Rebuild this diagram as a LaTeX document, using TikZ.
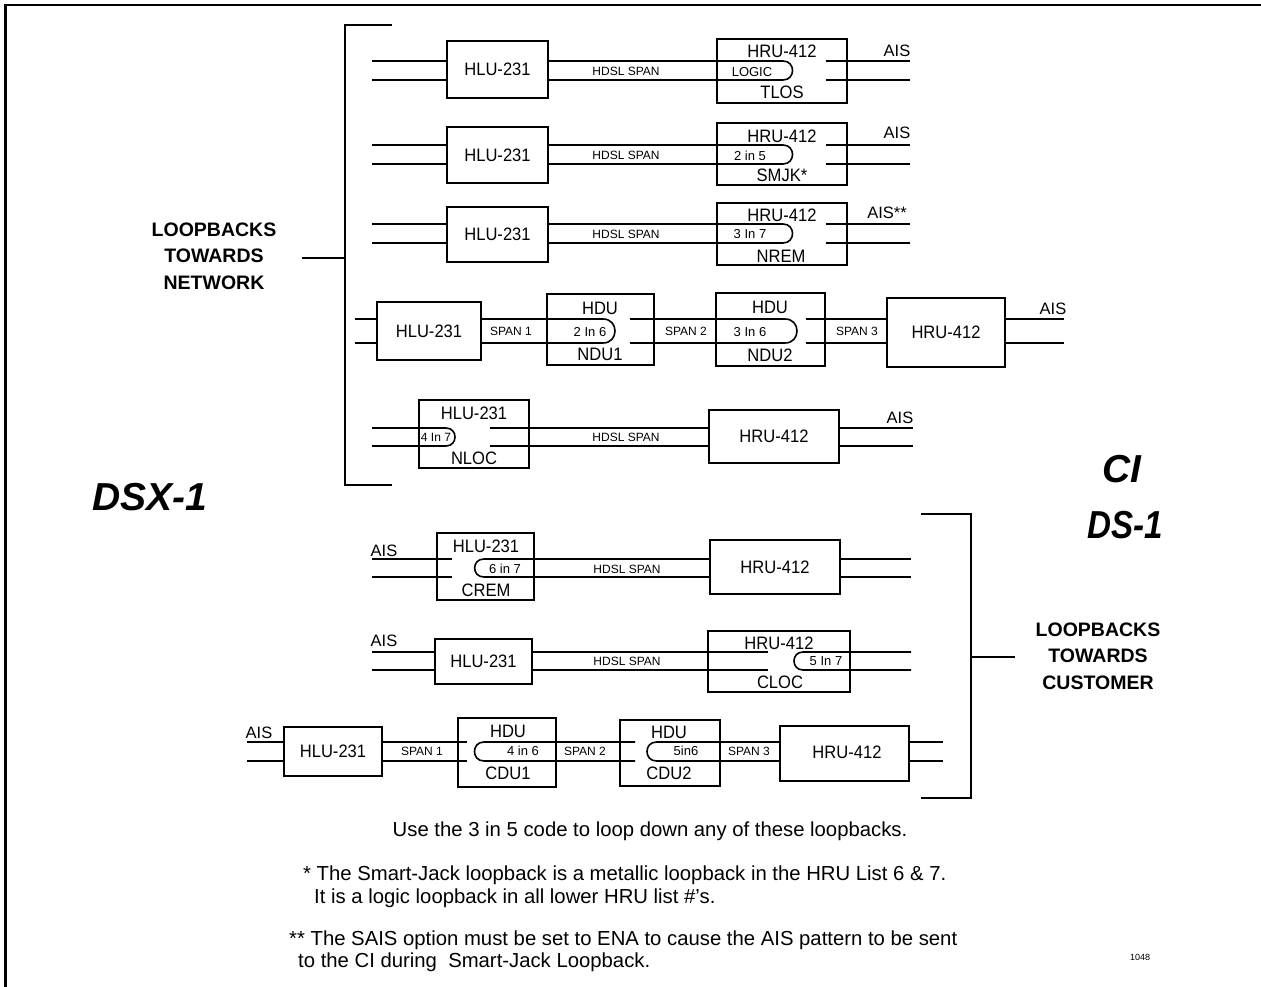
\documentclass[tikz,border=0pt]{standalone}
\usepackage{fontspec}
\setmainfont{Liberation Sans}
\usetikzlibrary{fit}
\newcommand{\myfs}[1]{\fontsize{#1}{#1}\selectfont}
\newcommand{\cz}[1]{\scalebox{0.92}[1]{#1}}
\begin{document}
\begin{tikzpicture}[x=1pt,y=-1pt,
  box/.style={draw, line width=2.6pt, inner sep=0pt, fit={#1}},
  wire/.style={line width=1.6pt},
  lab/.style={font=\myfs{18}, inner sep=0pt},
  sm/.style={font=\myfs{12}, inner sep=0pt},
  lp/.style={font=\myfs{13}, inner sep=0pt},
  ais/.style={font=\myfs{16.5}, inner sep=0pt, anchor=base},
  note/.style={font=\myfs{20.3}, inner sep=0pt, anchor=base west},
  brk/.style={line width=1.6pt},
  big/.style={font=\bfseries\itshape\myfs{39}, inner sep=0pt},
  grp/.style={font={\fontsize{19.5}{26.5}\selectfont\bfseries}, align=center, inner sep=0pt}]
\useasboundingbox (0,0) rectangle (1261,987);
% frame
\draw[line width=2.5pt] (1261,5) -- (5.5,5) -- (5.5,987);

% ---------- network bracket
\coordinate (nbt) at (392,25);
\coordinate (nbb) at (392,485);
\draw[brk] (nbt) -- (345,25) -- (345,485) -- (nbb);
\node[grp] (netlbl) at (214,256) {LOOPBACKS\\TOWARDS\\NETWORK};
\draw[brk] (302,258) -- (345,258);

% ---------- row 1
\node[box={(447,41) (548,98)}] (h1) {};
\node[lab] at (h1) {\cz{HLU-231}};
\draw[wire] (372,61) -- (447,61);
\draw[wire] (372,80) -- (447,80);
\draw[wire] (548,61) -- (783,61) .. controls (795.7,61) and (795.7,80) .. (783,80) -- (548,80);
\node[sm] (s1) at (626,71) {HDSL SPAN};
\node[box={(717,39) (847,103)}] (r1) {};
\node[lab] at (782,51) {\cz{HRU-412}};
\node[lp] at (752,72) {LOGIC};
\node[lab] at (782,92) {\cz{TLOS}};
\draw[wire] (826,61) -- (910,61);
\draw[wire] (826,80) -- (910,80);
\node[ais] at (897,57) {AIS};

% ---------- row 2
\node[box={(447,127) (548,183)}] (h2) {};
\node[lab] at (h2) {\cz{HLU-231}};
\draw[wire] (372,145) -- (447,145);
\draw[wire] (372,164) -- (447,164);
\draw[wire] (548,145) -- (783,145) .. controls (795.7,145) and (795.7,164) .. (783,164) -- (548,164);
\node[sm] (s2) at (626,155) {HDSL SPAN};
\node[box={(717,123) (847,185)}] (r2) {};
\node[lab] at (782,136) {\cz{HRU-412}};
\node[lp] at (750,156) {2 in 5};
\node[lab] at (782,175) {\cz{SMJK*}};
\draw[wire] (826,145) -- (910,145);
\draw[wire] (826,164) -- (910,164);
\node[ais] at (897,139) {AIS};

% ---------- row 3
\node[box={(447,207) (548,262)}] (h3) {};
\node[lab] at (h3) {\cz{HLU-231}};
\draw[wire] (372,224) -- (447,224);
\draw[wire] (372,243) -- (447,243);
\draw[wire] (548,224) -- (783,224) .. controls (795.7,224) and (795.7,243) .. (783,243) -- (548,243);
\node[sm] (s3) at (626,234) {HDSL SPAN};
\node[box={(717,203) (847,265)}] (r3) {};
\node[lab] at (782,215) {\cz{HRU-412}};
\node[lp] at (750,234) {3 In 7};
\node[lab] at (781,256) {\cz{NREM}};
\draw[wire] (826,224) -- (910,224);
\draw[wire] (826,243) -- (910,243);
\node[ais] at (887,219) {AIS**};

% ---------- row 4
\node[box={(377,302) (481,360)}] (h4) {};
\node[lab] at (h4) {\cz{HLU-231}};
\draw[wire] (355,319) -- (377,319);
\draw[wire] (355,343) -- (377,343);
\draw[wire] (481,319) -- (603,319) .. controls (619,319) and (619,343) .. (603,343) -- (481,343);
\node[sm] at (511,331) {SPAN 1};
\node[box={(547,294) (654,365)}] (d1) {};
\node[lab] at (600,308) {\cz{HDU}};
\node[lp] at (590,332) {2 In 6};
\node[lab] at (600,354) {\cz{NDU1}};
\draw[wire] (630,319) -- (785,319) .. controls (801,319) and (801,343) .. (785,343) -- (630,343);
\node[sm] at (686,331) {SPAN 2};
\node[box={(716,293) (825,366)}] (d2) {};
\node[lab] at (770,307) {\cz{HDU}};
\node[lp] at (750,332) {3 In 6};
\node[lab] at (770,355) {\cz{NDU2}};
\node[box={(887,298) (1005,367)}] (r4) {};
\node[lab] at (r4) {\cz{HRU-412}};
\draw[wire] (806,319) -- (887,319);
\draw[wire] (806,343) -- (887,343);
\node[sm] at (857,331) {SPAN 3};
\draw[wire] (1005,319) -- (1064,319);
\draw[wire] (1005,343) -- (1064,343);
\node[ais] at (1053,314) {AIS};

% ---------- row 5
\node[box={(419,400) (529,468)}] (h5) {};
\node[lab] at (474,413) {\cz{HLU-231}};
\node[lp, font=\myfs{12}] at (436,437) {4 In 7};
\node[lab] at (474,458) {\cz{NLOC}};
\draw[wire] (372,428) -- (446,428) .. controls (458,428) and (458,446) .. (446,446) -- (372,446);
\draw[wire] (490,428) -- (709,428);
\draw[wire] (490,446) -- (709,446);
\node[sm] at (626,437) {HDSL SPAN};
\node[box={(709,410) (839,463)}] (r5) {};
\node[lab] at (r5) {\cz{HRU-412}};
\draw[wire] (839,428) -- (913,428);
\draw[wire] (839,446) -- (913,446);
\node[ais] at (900,423) {AIS};

% ---------- labels DSX-1 / CI DS-1
\node[big] (dsx) at (150,497) {DSX-1};
\node[big] (ci) at (1122,469) {CI};
\node[big] (ds1) at (1125,525) {\scalebox{0.85}[1]{DS-1}};

% ---------- customer bracket
\coordinate (cbt) at (921,514);
\coordinate (cbb) at (921,798);
\draw[brk] (cbt) -- (971,514) -- (971,798) -- (cbb);
\draw[brk] (971,657) -- (1015,657);
\node[grp] (cuslbl) at (1098,656) {LOOPBACKS\\TOWARDS\\CUSTOMER};

% ---------- row 6
\node[ais] at (384,556) {AIS};
\node[box={(437,533) (534,600)}] (h6) {};
\node[lab] at (486,546) {\cz{HLU-231}};
\node[lp] at (505,569) {6 in 7};
\node[lab] at (486,590) {\cz{CREM}};
\draw[wire] (372,559) -- (452,559);
\draw[wire] (372,577) -- (452,577);
\draw[wire] (710,559) -- (484,559) .. controls (471.5,559) and (471.5,577) .. (484,577) -- (710,577);
\node[sm] at (627,569) {HDSL SPAN};
\node[box={(710,540) (840,594)}] (r6) {};
\node[lab] at (r6) {\cz{HRU-412}};
\draw[wire] (840,559) -- (911,559);
\draw[wire] (840,577) -- (911,577);

% ---------- row 7
\node[ais] at (384,646) {AIS};
\node[box={(435,639) (532,684)}] (h7) {};
\node[lab] at (h7) {\cz{HLU-231}};
\draw[wire] (372,652) -- (435,652);
\draw[wire] (372,670) -- (435,670);
\draw[wire] (532,652) -- (768,652);
\draw[wire] (532,670) -- (768,670);
\node[sm] at (627,661) {HDSL SPAN};
\node[box={(708,631) (850,692)}] (r7) {};
\node[lab] at (779,643) {\cz{HRU-412}};
\node[lp] at (826,661) {5 In 7};
\node[lab] at (780,682) {\cz{CLOC}};
\draw[wire] (911,652) -- (803,652) .. controls (791,652) and (791,670) .. (803,670) -- (911,670);

% ---------- row 8
\node[ais] at (259,738) {AIS};
\draw[wire] (247,742) -- (284,742);
\draw[wire] (247,761) -- (284,761);
\node[box={(284,727) (382,776)}] (h8) {};
\node[lab] at (h8) {\cz{HLU-231}};
\draw[wire] (382,742) -- (467,742);
\draw[wire] (382,761) -- (467,761);
\node[sm] at (422,751) {SPAN 1};
\node[box={(458,718) (556,787)}] (c1) {};
\node[lab] at (508,731) {\cz{HDU}};
\node[lp] at (523,751) {4 in 6};
\node[lab] at (508,773) {\cz{CDU1}};
\draw[wire] (635,742) -- (484,742) .. controls (471.3,742) and (471.3,761) .. (484,761) -- (635,761);
\node[sm] at (585,751) {SPAN 2};
\node[box={(620,720) (720,786)}] (c2) {};
\node[lab] at (669,732) {\cz{HDU}};
\node[lp] at (686,751) {5in6};
\node[lab] at (669,773) {\cz{CDU2}};
\draw[wire] (780,742) -- (656.5,742) .. controls (643.8,742) and (643.8,761) .. (656.5,761) -- (780,761);
\node[sm] at (749,751) {SPAN 3};
\node[box={(780,726) (909,781)}] (r8) {};
\node[lab] at (847,752) {\cz{HRU-412}};
\draw[wire] (909,742) -- (943,742);
\draw[wire] (909,761) -- (943,761);

% ---------- notes
\node[font=\myfs{20.3}, inner sep=0pt, anchor=base] at (650,836) {Use the 3 in 5 code to loop down any of these loopbacks.};
\node[note] at (303,880) {* The Smart-Jack loopback is a metallic loopback in the HRU List 6 \& 7.};
\node[note] at (314,903) {It is a logic loopback in all lower HRU list \#'s.};
\node[note] at (289,945) {** The SAIS option must be set to ENA to cause the AIS pattern to be sent};
\node[note] at (298,967) {to the CI during\ \ Smart-Jack Loopback.};
\node[font=\myfs{9}, inner sep=0pt] at (1140,957) {1048};
\end{tikzpicture}
\end{document}
